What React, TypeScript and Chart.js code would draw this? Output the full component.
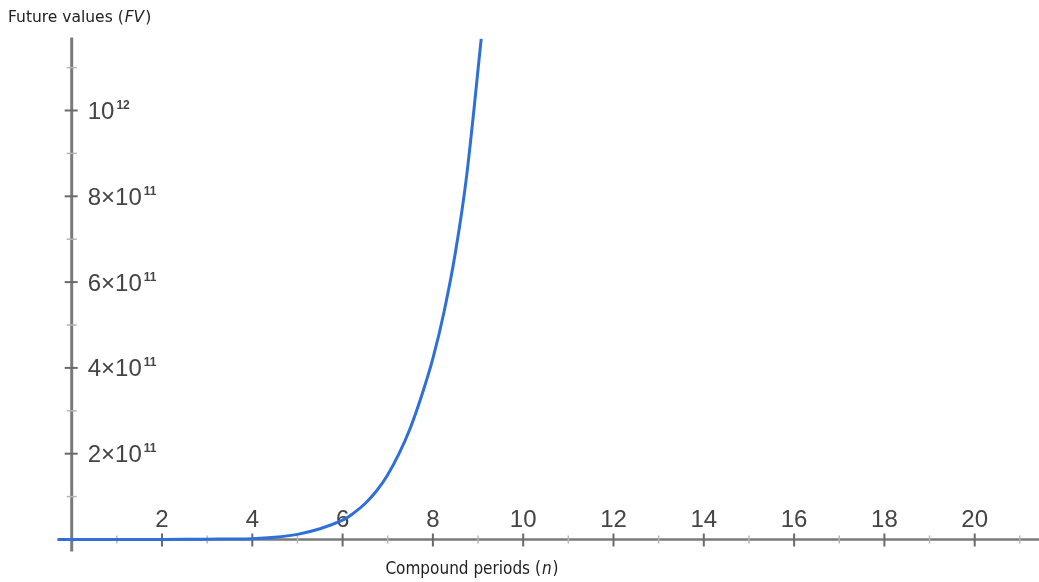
import React, { useEffect, useRef } from "react";
import { Chart, registerables } from "chart.js";

Chart.register(...registerables);

// ---- data ----
const periods = [
  -0.3, 1, 2, 3, 4, 4.5, 5, 5.5, 6, 6.25, 6.5, 6.75, 7, 7.25, 7.5, 7.75, 8, 8.25, 8.5, 8.75, 9.07,
];
const futureValues = [
  0, 0.05e9, 0.2e9, 0.7e9, 2e9, 5e9, 12e9, 25e9, 45e9, 62e9, 84e9, 113e9, 151e9, 200e9, 260e9, 335e9,
  422e9, 532e9, 670e9, 850e9, 1167e9,
];

const xMajorTicks = [2, 4, 6, 8, 10, 12, 14, 16, 18, 20];
const xTickLabels = ["2", "4", "6", "8", "10", "12", "14", "16", "18", "20"];
const xMinorTicks = [1, 3, 5, 7, 9, 11, 13, 15, 17, 19, 21];

const yMajorTicks = [2e11, 4e11, 6e11, 8e11, 1e12];
const yTickMantissa = ["2×", "4×", "6×", "8×", ""];
const yTickBase = ["10", "10", "10", "10", "10"];
const yTickExponent = ["11", "11", "11", "11", "12"];
const yMinorTicks = [1e11, 3e11, 5e11, 7e11, 9e11, 1.1e12];

const yAxisTitle = ["Future values (", "FV", ")"];
const xAxisTitle = ["Compound periods (", "n", ")"];

const W = 1039;
const H = 582;

export default function App() {
  const ref = useRef<HTMLCanvasElement | null>(null);

  useEffect(() => {
    document.body.style.margin = "0";
    const canvas = ref.current;
    if (!canvas) return;

    const axesPlugin = {
      id: "mathAxes",
      beforeDatasetsDraw(chart: any) {
        const ctx = chart.ctx as CanvasRenderingContext2D;
        const xs = chart.scales.x;
        const ys = chart.scales.y;
        const x0 = xs.getPixelForValue(0);
        const y0 = ys.getPixelForValue(0);
        ctx.save();
        // axis lines
        ctx.strokeStyle = "#7a7a7a";
        ctx.lineWidth = 2.5;
        ctx.beginPath();
        ctx.moveTo(xs.getPixelForValue(-0.32), y0);
        ctx.lineTo(W, y0);
        ctx.stroke();
        ctx.lineWidth = 3;
        ctx.beginPath();
        ctx.moveTo(x0, ys.getPixelForValue(1.17e12));
        ctx.lineTo(x0, y0 + 12);
        ctx.stroke();

        // minor ticks
        ctx.strokeStyle = "#b5b5b5";
        ctx.lineWidth = 1.5;
        xMinorTicks.forEach((v) => {
          const px = xs.getPixelForValue(v);
          ctx.beginPath();
          ctx.moveTo(px, y0 - 4);
          ctx.lineTo(px, y0 + 4);
          ctx.stroke();
        });
        yMinorTicks.forEach((v) => {
          const py = ys.getPixelForValue(v);
          ctx.beginPath();
          ctx.moveTo(x0 - 5, py);
          ctx.lineTo(x0 + 5, py);
          ctx.stroke();
        });
        // major ticks
        ctx.strokeStyle = "#6a6a6a";
        ctx.lineWidth = 2;
        xMajorTicks.forEach((v) => {
          const px = xs.getPixelForValue(v);
          ctx.beginPath();
          ctx.moveTo(px, y0 - 6);
          ctx.lineTo(px, y0 + 7);
          ctx.stroke();
        });
        yMajorTicks.forEach((v) => {
          const py = ys.getPixelForValue(v);
          ctx.beginPath();
          ctx.moveTo(x0 - 7, py);
          ctx.lineTo(x0 + 6, py);
          ctx.stroke();
        });

        // x tick labels (above the axis)
        ctx.fillStyle = "#444";
        ctx.font = "24px 'Liberation Sans', Arial, sans-serif";
        ctx.textAlign = "center";
        ctx.textBaseline = "alphabetic";
        xMajorTicks.forEach((v, i) => {
          ctx.fillText(xTickLabels[i], xs.getPixelForValue(v), y0 - 13);
        });

        // y tick labels (right of the axis)
        ctx.textAlign = "left";
        yMajorTicks.forEach((v, i) => {
          const py = ys.getPixelForValue(v);
          let tx = x0 + 16;
          ctx.font = "24px 'Liberation Sans', Arial, sans-serif";
          ctx.textBaseline = "alphabetic";
          const main = yTickMantissa[i] + yTickBase[i];
          ctx.fillText(main, tx, py + 8.5);
          tx += ctx.measureText(main).width + 2;
          ctx.font = "bold 12px 'Liberation Sans', Arial, sans-serif";
          ctx.fillText(yTickExponent[i], tx, py - 1.5);
        });

        // axis titles
        ctx.fillStyle = "#222";
        ctx.textBaseline = "alphabetic";
        const drawTitle = (parts: string[], x: number, y: number, size: number, family: string, center: boolean) => {
          const fonts = [`${size}px ${family}`, `italic ${size}px ${family}`, `${size}px ${family}`];
          let total = 0;
          parts.forEach((p, i) => {
            ctx.font = fonts[i];
            total += ctx.measureText(p).width + (i === 1 ? 2 : 0);
          });
          let cx = center ? x - total / 2 : x;
          ctx.textAlign = "left";
          parts.forEach((p, i) => {
            ctx.font = fonts[i];
            if (i === 1) cx += 1;
            ctx.fillText(p, cx, y);
            cx += ctx.measureText(p).width + (i === 1 ? 1 : 0);
          });
        };
        drawTitle(yAxisTitle, 8, 22, 15.5, "'DejaVu Sans', sans-serif", false);
        drawTitle(xAxisTitle, 472, 574, 17, "'DejaVu Sans Condensed', 'DejaVu Sans', sans-serif", true);
        ctx.restore();
      },
    };

    const chart = new Chart(canvas, {
      type: "line",
      data: {
        datasets: [
          {
            data: periods.map((p, i) => ({ x: p, y: futureValues[i] })),
            borderColor: "#2e6fd9",
            borderWidth: 3,
            pointRadius: 0,
            tension: 0.35,
            fill: false,
          },
        ],
      },
      options: {
        animation: false,
        responsive: false,
        maintainAspectRatio: false,
        layout: { padding: 0 },
        plugins: { legend: { display: false }, tooltip: { enabled: false } },
        scales: {
          x: { type: "linear", display: false, min: -71.7 / 45.15, max: (W - 71.7) / 45.15 },
          y: { type: "linear", display: false, min: -(H - 539.5) * (1e11 / 42.9), max: 539.5 * (1e11 / 42.9) },
        },
      },
      plugins: [axesPlugin],
    });
    return () => chart.destroy();
  }, []);

  return (
    <div style={{ position: "absolute", left: 0, top: 0, width: W, height: H, background: "#fff" }}>
      <canvas ref={ref} width={W} height={H} style={{ width: W, height: H, display: "block" }} />
    </div>
  );
}
